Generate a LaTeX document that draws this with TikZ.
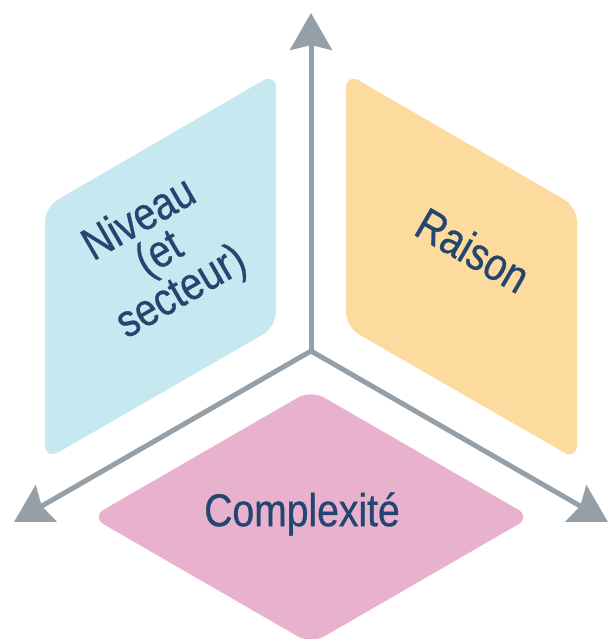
\documentclass[tikz,border=0pt]{standalone}
\usepackage{fontspec}
\setmainfont[FakeStretch=0.85,FakeBold=0.6]{Liberation Sans}
\usetikzlibrary{arrows.meta}
\definecolor{panelblue}{HTML}{C5E8F1}
\definecolor{panelorange}{HTML}{FDDA9E}
\definecolor{panelpink}{HTML}{E8B2CF}
\definecolor{axisgray}{HTML}{959FA8}
\definecolor{labelblue}{HTML}{22466F}
\begin{document}
\begin{tikzpicture}[x=1pt,y=-1pt,
  panel/.style={rounded corners=15pt},
  axis/.style={draw=axisgray,line width=5pt,
    -{Stealth[length=37pt,width=42pt,inset=5pt]}},
  label/.style={text=labelblue,font=\fontsize{46}{40}\selectfont,
    align=center,inner sep=0pt}]
\useasboundingbox (0,0) rectangle (608,639);
\begin{scope}
\clip (0,0) rectangle (608,639);
% three faces
\fill[panelblue,panel] (45,207) -- (276,73) -- (276,327) -- (45,460) -- cycle;
\fill[panelorange,panel] (346,73) -- (577,207) -- (577,460) -- (346,327) -- cycle;
\fill[panelpink,panel] (91,517) -- (311,390) -- (531,517) -- (311,644) -- cycle;
% axes
\coordinate (o) at (311,351);
\coordinate (up) at (311,13);
\coordinate (lt) at (14,522);
\coordinate (rt) at (608,522);
\draw[axis] (o) -- (up);
\draw[axis] (o) -- (lt);
\draw[axis] (o) -- (rt);
\end{scope}
% labels
\node[label,rotate=30] (niveau) at (161,257) {Niveau\\(et\\secteur)};
\node[label,rotate=-30] (raison) at (473,250) {Raison};
\node[label] (complexite) at (302,514) {Complexité};
\end{tikzpicture}
\end{document}
